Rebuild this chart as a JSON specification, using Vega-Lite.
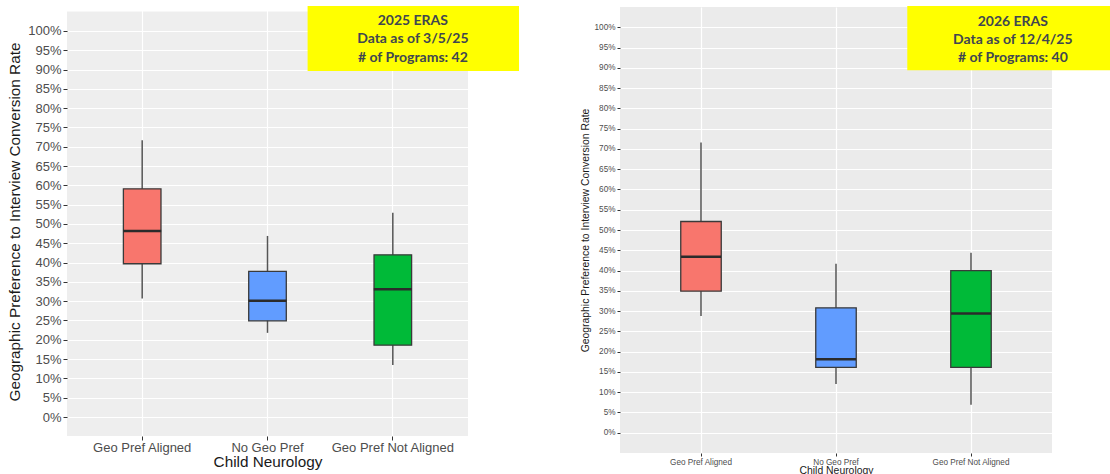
{
  "$schema": "https://vega.github.io/schema/vega-lite/v6.json",
  "padding": {"left": 7, "top": 5, "right": 0, "bottom": 0},
  "spacing": 60,
  "background": "white",
  "datasets": {
    "y2025": [
      {"group": "Geo Pref Aligned", "lo": 0.307, "q1": 0.397, "med": 0.482, "q3": 0.591, "hi": 0.717},
      {"group": "No Geo Pref", "lo": 0.218, "q1": 0.249, "med": 0.301, "q3": 0.377, "hi": 0.469},
      {"group": "Geo Pref Not Aligned", "lo": 0.135, "q1": 0.186, "med": 0.331, "q3": 0.42, "hi": 0.529}
    ],
    "y2026": [
      {"group": "Geo Pref Aligned", "lo": 0.288, "q1": 0.349, "med": 0.434, "q3": 0.521, "hi": 0.716},
      {"group": "No Geo Pref", "lo": 0.12, "q1": 0.161, "med": 0.181, "q3": 0.308, "hi": 0.417},
      {"group": "Geo Pref Not Aligned", "lo": 0.069, "q1": 0.161, "med": 0.294, "q3": 0.4, "hi": 0.444}
    ]
  },
  "hconcat": [
    {
      "width": 401,
      "height": 429,
      "view": {"fill": "#eeeeee", "stroke": null},
      "resolve": {"scale": {"x": "independent", "y": "independent"}},
      "layer": [
        {
          "data": {"name": "y2025"},
          "encoding": {
            "x": {
              "field": "group", "type": "nominal",
              "scale": {"domain": ["Geo Pref Aligned", "No Geo Pref", "Geo Pref Not Aligned"], "paddingInner": 0.7, "paddingOuter": 0.45},
              "axis": {"title": "Child Neurology", "labelAngle": 0, "labelFontSize": 13, "labelColor": "#4d4d4d", "labelFont": "Liberation Sans", "titleFont": "Liberation Sans", "titleFontSize": 15.3, "titleFontWeight": "normal", "titleColor": "#1a1a1a", "tickColor": "#333333", "tickSize": 4, "labelPadding": 1, "titlePadding": 0, "domain": false, "grid": true, "gridColor": "#ffffff", "gridWidth": 1.2, "labelOverlap": false}
            },
            "y": {
              "type": "quantitative",
              "scale": {"domain": [-0.0492, 1.062], "nice": false, "zero": false},
              "axis": {"title": "Geographic Preference to Interview Conversion Rate", "values": [0, 0.05, 0.1, 0.15, 0.2, 0.25, 0.3, 0.35, 0.4, 0.45, 0.5, 0.55, 0.6, 0.65, 0.7, 0.75, 0.8, 0.85, 0.9, 0.95, 1], "format": ".0%", "labelFontSize": 13, "labelColor": "#4d4d4d", "labelFont": "Liberation Sans", "titleFont": "Liberation Sans", "titleFontSize": 15.3, "titleFontWeight": "normal", "titleColor": "#1a1a1a", "tickColor": "#333333", "tickSize": 4, "labelPadding": 2, "titlePadding": 5, "domain": false, "grid": true, "gridColor": "#ffffff", "gridWidth": 1.2, "labelOverlap": false}
            }
          },
          "layer": [
            {"mark": {"type": "rule", "color": "#555555", "strokeWidth": 1.5}, "encoding": {"y": {"field": "lo"}, "y2": {"field": "hi"}}},
            {"mark": {"type": "bar", "stroke": "#3a3a3a", "strokeWidth": 1.3, "opacity": 1}, "encoding": {"y": {"field": "q1"}, "y2": {"field": "q3"}, "fill": {"field": "group", "type": "nominal", "scale": {"domain": ["Geo Pref Aligned", "No Geo Pref", "Geo Pref Not Aligned"], "range": ["#F8766D", "#619CFF", "#00BA38"]}, "legend": null}}},
            {"mark": {"type": "tick", "color": "#2b2b2b", "thickness": 2.5, "size": 38, "orient": "horizontal", "opacity": 1}, "encoding": {"y": {"field": "med"}}}
          ]
        },
        {
          "data": {"values": [{}]},
          "layer": [
            {"mark": {"type": "rect", "fill": "#ffffff"}, "encoding": {"x": {"datum": 0, "type": "quantitative", "scale": {"domain": [0, 3.2], "nice": false, "zero": false}, "axis": null}, "x2": {"datum": 3.2}, "y": {"datum": 1.0621, "type": "quantitative", "scale": {"domain": [-0.0492, 1.062], "nice": false, "zero": false}, "axis": null}, "y2": {"datum": 1.0502}}},
            {"mark": {"type": "rect", "fill": "#ffff00"}, "encoding": {"x": {"datum": 1.92, "type": "quantitative"}, "x2": {"datum": 3.607}, "y": {"datum": 1.0646, "type": "quantitative"}, "y2": {"datum": 0.896}}},
            {"mark": {"type": "text", "text": "2025 ERAS\nData as of 3/5/25\n# of Programs: 42", "lineBreak": "\n", "font": "Lato", "fontWeight": "bold", "fontSize": 14, "color": "#404650", "align": "center", "baseline": "middle", "lineHeight": 18.5}, "encoding": {"x": {"datum": 2.76, "type": "quantitative"}, "y": {"datum": 1.026, "type": "quantitative"}}}
          ]
        }
      ]
    },
    {
      "width": 432,
      "height": 446,
      "view": {"fill": "#ebebeb", "stroke": null},
      "resolve": {"scale": {"x": "independent", "y": "independent"}},
      "layer": [
        {
          "data": {"name": "y2026"},
          "encoding": {
            "x": {
              "field": "group", "type": "nominal",
              "scale": {"domain": ["Geo Pref Aligned", "No Geo Pref", "Geo Pref Not Aligned"], "paddingInner": 0.7, "paddingOuter": 0.45},
              "axis": {"title": "Child Neurology", "labelAngle": 0, "labelFontSize": 8.2, "labelColor": "#4d4d4d", "labelFont": "Liberation Sans", "titleFont": "Liberation Sans", "titleFontSize": 10.4, "titleFontWeight": "normal", "titleColor": "#1a1a1a", "tickColor": "#333333", "tickSize": 3, "labelPadding": 2, "titlePadding": 0, "domain": false, "grid": true, "gridColor": "#ffffff", "gridWidth": 1.2, "labelOverlap": false}
            },
            "y": {
              "type": "quantitative",
              "scale": {"domain": [-0.05, 1.05], "nice": false, "zero": false},
              "axis": {"title": "Geographic Preference to Interview Conversion Rate", "values": [0, 0.05, 0.1, 0.15, 0.2, 0.25, 0.3, 0.35, 0.4, 0.45, 0.5, 0.55, 0.6, 0.65, 0.7, 0.75, 0.8, 0.85, 0.9, 0.95, 1], "format": ".0%", "labelFontSize": 8.2, "labelColor": "#4d4d4d", "labelFont": "Liberation Sans", "titleFont": "Liberation Sans", "titleFontSize": 10.4, "titleFontWeight": "normal", "titleColor": "#1a1a1a", "tickColor": "#333333", "tickSize": 3, "labelPadding": 2, "titlePadding": 4, "domain": false, "grid": true, "gridColor": "#ffffff", "gridWidth": 1.2, "labelOverlap": false}
            }
          },
          "layer": [
            {"mark": {"type": "rule", "color": "#555555", "strokeWidth": 1.5}, "encoding": {"y": {"field": "lo"}, "y2": {"field": "hi"}}},
            {"mark": {"type": "bar", "stroke": "#3a3a3a", "strokeWidth": 1.3, "opacity": 1}, "encoding": {"y": {"field": "q1"}, "y2": {"field": "q3"}, "fill": {"field": "group", "type": "nominal", "scale": {"domain": ["Geo Pref Aligned", "No Geo Pref", "Geo Pref Not Aligned"], "range": ["#F8766D", "#619CFF", "#00BA38"]}, "legend": null}}},
            {"mark": {"type": "tick", "color": "#2b2b2b", "thickness": 2.5, "size": 40, "orient": "horizontal", "opacity": 1}, "encoding": {"y": {"field": "med"}}}
          ]
        },
        {
          "data": {"values": [{}]},
          "layer": [
            {"mark": {"type": "rect", "fill": "#ffff00"}, "encoding": {"x": {"datum": 2.128, "type": "quantitative", "scale": {"domain": [0, 3.2], "nice": false, "zero": false}, "axis": null}, "x2": {"datum": 3.638}, "y": {"datum": 1.0525, "type": "quantitative", "scale": {"domain": [-0.05, 1.05], "nice": false, "zero": false}, "axis": null}, "y2": {"datum": 0.894}}},
            {"mark": {"type": "text", "text": "2026 ERAS\nData as of 12/4/25\n# of Programs: 40", "lineBreak": "\n", "font": "Lato", "fontWeight": "bold", "fontSize": 14, "color": "#404650", "align": "center", "baseline": "middle", "lineHeight": 18}, "encoding": {"x": {"datum": 2.91, "type": "quantitative"}, "y": {"datum": 1.014, "type": "quantitative"}}}
          ]
        }
      ]
    }
  ]
}
